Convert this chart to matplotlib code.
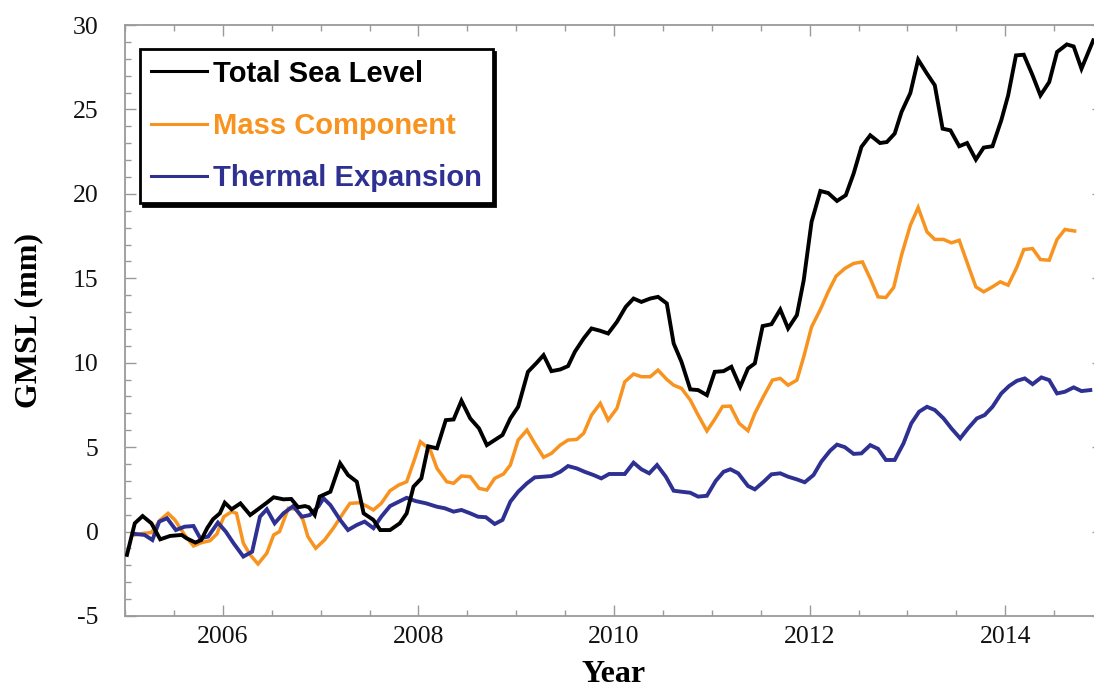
import matplotlib
matplotlib.use("Agg")
import matplotlib.pyplot as plt
from matplotlib.ticker import MultipleLocator

plt.rcParams["axes.unicode_minus"] = False

# Global mean sea level budget, monthly values (mm)
total_year = [2005.02, 2005.10, 2005.18, 2005.27, 2005.36, 2005.46, 2005.58, 2005.63, 2005.72, 2005.78,
              2005.84, 2005.90, 2005.97, 2006.02, 2006.09, 2006.18, 2006.28, 2006.36, 2006.45, 2006.52,
              2006.62, 2006.70, 2006.77, 2006.84, 2006.88, 2006.94, 2006.99, 2007.10, 2007.20, 2007.28,
              2007.37, 2007.44, 2007.54, 2007.61, 2007.71, 2007.81, 2007.88, 2007.95, 2008.03, 2008.10,
              2008.19, 2008.28, 2008.36, 2008.44, 2008.53, 2008.62, 2008.70, 2008.78, 2008.86, 2008.94,
              2009.02, 2009.12, 2009.21, 2009.28, 2009.36, 2009.45, 2009.53, 2009.60, 2009.69, 2009.77,
              2009.86, 2009.94, 2010.03, 2010.12, 2010.20, 2010.28, 2010.37, 2010.45, 2010.54, 2010.61,
              2010.69, 2010.78, 2010.86, 2010.95, 2011.03, 2011.12, 2011.20, 2011.29, 2011.37, 2011.44,
              2011.52, 2011.61, 2011.70, 2011.78, 2011.87, 2011.94, 2012.02, 2012.11, 2012.19, 2012.28,
              2012.37, 2012.45, 2012.53, 2012.62, 2012.72, 2012.79, 2012.87, 2012.94, 2013.03, 2013.11,
              2013.20, 2013.28, 2013.36, 2013.44, 2013.53, 2013.61, 2013.70, 2013.78, 2013.87, 2013.96,
              2014.03, 2014.11, 2014.19, 2014.28, 2014.36, 2014.45, 2014.53, 2014.63, 2014.70, 2014.78,
              2014.90]
total_gmsl = [-1.38, 0.49, 0.92, 0.49, -0.46, -0.26, -0.20, -0.40, -0.65, -0.50,
              0.20, 0.73, 1.08, 1.71, 1.32, 1.67, 0.98, 1.32, 1.71, 2.03,
              1.91, 1.93, 1.44, 1.51, 1.44, 0.98, 2.07, 2.36, 4.04, 3.35,
              2.95, 1.08, 0.69, 0.09, 0.09, 0.49, 1.08, 2.66, 3.15, 5.05,
              4.93, 6.60, 6.64, 7.75, 6.70, 6.11, 5.12, 5.42, 5.72, 6.70,
              7.39, 9.46, 10.00, 10.45, 9.50, 9.60, 9.80, 10.65, 11.44, 12.03,
              11.89, 11.73, 12.42, 13.31, 13.80, 13.60, 13.80, 13.90, 13.51, 11.14,
              10.05, 8.42, 8.38, 8.08, 9.46, 9.50, 9.76, 8.57, 9.66, 9.96,
              12.17, 12.28, 13.15, 12.03, 12.82, 14.89, 18.34, 20.17, 20.05, 19.58,
              19.92, 21.20, 22.78, 23.47, 23.01, 23.07, 23.57, 24.85, 25.97, 27.95,
              27.12, 26.43, 23.86, 23.76, 22.82, 23.01, 22.03, 22.74, 22.82, 24.36,
              25.83, 28.20, 28.24, 27.02, 25.83, 26.62, 28.40, 28.85, 28.73, 27.41,
              29.09]

mass_year = [2005.10, 2005.19, 2005.27, 2005.36, 2005.44, 2005.51, 2005.61, 2005.70, 2005.78, 2005.87,
             2005.94, 2006.01, 2006.09, 2006.14, 2006.21, 2006.28, 2006.36, 2006.45, 2006.52, 2006.58,
             2006.67, 2006.75, 2006.82, 2006.87, 2006.95, 2007.04, 2007.13, 2007.23, 2007.30, 2007.40,
             2007.47, 2007.54, 2007.62, 2007.71, 2007.80, 2007.88, 2007.95, 2008.02, 2008.12, 2008.19,
             2008.29, 2008.36, 2008.44, 2008.53, 2008.62, 2008.70, 2008.78, 2008.87, 2008.94, 2009.02,
             2009.11, 2009.19, 2009.28, 2009.36, 2009.45, 2009.53, 2009.62, 2009.69, 2009.77, 2009.86,
             2009.94, 2010.03, 2010.11, 2010.20, 2010.28, 2010.37, 2010.45, 2010.54, 2010.61, 2010.69,
             2010.78, 2010.86, 2010.95, 2011.03, 2011.11, 2011.19, 2011.28, 2011.37, 2011.44, 2011.53,
             2011.62, 2011.70, 2011.78, 2011.87, 2011.94, 2012.02, 2012.11, 2012.19, 2012.27, 2012.36,
             2012.45, 2012.54, 2012.62, 2012.70, 2012.78, 2012.86, 2012.94, 2013.03, 2013.11, 2013.20,
             2013.28, 2013.37, 2013.45, 2013.53, 2013.62, 2013.70, 2013.78, 2013.86, 2013.95, 2014.03,
             2014.12, 2014.19, 2014.28, 2014.36, 2014.45, 2014.53, 2014.61, 2014.71]
mass_gmsl = [-0.20, -0.10, -0.06, 0.69, 1.08, 0.69, -0.20, -0.85, -0.66, -0.54,
             -0.14, 0.88, 1.18, 1.08, -0.69, -1.38, -1.92, -1.28, -0.20, 0.00,
             1.38, 1.32, 0.69, -0.30, -0.99, -0.50, 0.20, 1.08, 1.67, 1.71,
             1.51, 1.28, 1.67, 2.42, 2.76, 2.95, 4.10, 5.32, 4.85, 3.74,
             2.95, 2.86, 3.29, 3.25, 2.56, 2.46, 3.15, 3.41, 3.94, 5.42,
             6.01, 5.22, 4.40, 4.63, 5.12, 5.42, 5.46, 5.82, 6.90, 7.59,
             6.60, 7.30, 8.87, 9.33, 9.17, 9.17, 9.56, 9.01, 8.67, 8.48,
             7.79, 6.90, 5.96, 6.65, 7.41, 7.43, 6.41, 5.97, 7.00, 8.02,
             8.97, 9.07, 8.67, 8.97, 10.35, 12.12, 13.15, 14.20, 15.12, 15.58,
             15.88, 15.97, 14.99, 13.90, 13.86, 14.46, 16.37, 18.14, 19.19, 17.75,
             17.30, 17.30, 17.10, 17.25, 15.78, 14.49, 14.20, 14.46, 14.79, 14.59,
             15.67, 16.70, 16.76, 16.11, 16.07, 17.30, 17.89, 17.80]

thermal_year = [2005.10, 2005.20, 2005.28, 2005.35, 2005.43, 2005.52, 2005.61, 2005.70, 2005.77, 2005.85,
                2005.95, 2006.03, 2006.11, 2006.21, 2006.30, 2006.38, 2006.45, 2006.53, 2006.62, 2006.72,
                2006.81, 2006.89, 2006.98, 2007.03, 2007.10, 2007.20, 2007.28, 2007.37, 2007.45, 2007.54,
                2007.62, 2007.71, 2007.80, 2007.88, 2007.97, 2008.08, 2008.19, 2008.27, 2008.36, 2008.44,
                2008.53, 2008.61, 2008.69, 2008.78, 2008.86, 2008.94, 2009.02, 2009.11, 2009.19, 2009.28,
                2009.36, 2009.45, 2009.53, 2009.62, 2009.70, 2009.79, 2009.87, 2009.95, 2010.03, 2010.11,
                2010.20, 2010.28, 2010.36, 2010.44, 2010.53, 2010.61, 2010.69, 2010.78, 2010.86, 2010.95,
                2011.04, 2011.12, 2011.19, 2011.27, 2011.37, 2011.44, 2011.53, 2011.61, 2011.70, 2011.78,
                2011.87, 2011.95, 2012.04, 2012.12, 2012.21, 2012.28, 2012.36, 2012.45, 2012.53, 2012.62,
                2012.70, 2012.78, 2012.87, 2012.96, 2013.04, 2013.12, 2013.20, 2013.28, 2013.37, 2013.45,
                2013.54, 2013.62, 2013.71, 2013.79, 2013.87, 2013.96, 2014.04, 2014.12, 2014.20, 2014.28,
                2014.37, 2014.45, 2014.53, 2014.61, 2014.70, 2014.78, 2014.87]
thermal_gmsl = [-0.14, -0.20, -0.50, 0.59, 0.79, 0.09, 0.29, 0.33, -0.40, -0.30,
                0.53, 0.00, -0.69, -1.48, -1.19, 0.88, 1.32, 0.49, 1.08, 1.51,
                0.88, 0.98, 1.51, 1.97, 1.57, 0.69, 0.09, 0.39, 0.59, 0.20,
                0.88, 1.51, 1.77, 2.00, 1.81, 1.67, 1.47, 1.38, 1.18, 1.28,
                1.08, 0.88, 0.85, 0.45, 0.69, 1.77, 2.36, 2.86, 3.21, 3.25,
                3.29, 3.54, 3.88, 3.74, 3.54, 3.35, 3.15, 3.41, 3.41, 3.41,
                4.08, 3.69, 3.45, 3.94, 3.25, 2.42, 2.36, 2.30, 2.07, 2.12,
                3.00, 3.54, 3.69, 3.45, 2.70, 2.50, 2.95, 3.39, 3.45, 3.25,
                3.09, 2.92, 3.35, 4.14, 4.79, 5.15, 5.00, 4.60, 4.63, 5.12,
                4.90, 4.24, 4.24, 5.22, 6.41, 7.10, 7.39, 7.20, 6.70, 6.11,
                5.52, 6.11, 6.70, 6.90, 7.39, 8.18, 8.62, 8.93, 9.07, 8.73,
                9.13, 8.97, 8.18, 8.28, 8.54, 8.32, 8.38]

series_labels = ["Total Sea Level", "Mass Component", "Thermal Expansion"]
series_colors = ["#000000", "#F7931E", "#2E3192"]

x_ticks = [2006, 2008, 2010, 2012, 2014]
y_ticks = [-5, 0, 5, 10, 15, 20, 25, 30]

W, H = 1094, 688
fig = plt.figure(figsize=(W / 100, H / 100), dpi=100)
fig.patch.set_facecolor("white")
ax = fig.add_axes([125 / W, (H - 616) / H, 978 / W, 591 / H])

ax.plot(total_year, total_gmsl, color=series_colors[0], lw=2.8,
        label=series_labels[0], solid_joinstyle="miter", zorder=3)
ax.plot(mass_year, mass_gmsl, color=series_colors[1], lw=2.5,
        label=series_labels[1], solid_joinstyle="miter", zorder=2)
ax.plot(thermal_year, thermal_gmsl, color=series_colors[2], lw=2.8,
        label=series_labels[2], solid_joinstyle="miter", zorder=2.5)

ax.set_xlim(2005, 2015)
ax.set_ylim(-5, 30)
ax.set_xticks(x_ticks)
ax.set_yticks(y_ticks)
ax.xaxis.set_minor_locator(MultipleLocator(0.5))
ax.yaxis.set_minor_locator(MultipleLocator(1))

frame_color = "#9a9a9a"
for sp in ax.spines.values():
    sp.set_color(frame_color)
    sp.set_linewidth(1.3)

serif = ["Liberation Serif", "DejaVu Serif"]
ax.tick_params(which="both", direction="in", top=True, right=True, color=frame_color, width=1.0)
ax.tick_params(which="major", length=8)
ax.tick_params(which="minor", length=4.5)
ax.tick_params(axis="x", which="major", pad=7, labelsize=18.5, labelcolor="#111111")
ax.tick_params(axis="y", which="major", pad=19, labelsize=18.5, labelcolor="#111111")
for lab in ax.get_xticklabels() + ax.get_yticklabels():
    lab.set_family(serif)

ax.set_xlabel("Year", family=serif, fontweight="bold", fontsize=23, labelpad=9)
ax.set_ylabel("GMSL (mm)", family=serif, fontweight="bold", fontsize=23, labelpad=21)

leg = ax.legend(loc="upper left", bbox_to_anchor=(15 / 978, 1 - 24 / 591), borderaxespad=0,
                frameon=True, fancybox=False, framealpha=1, edgecolor="black",
                prop={"family": ["Liberation Sans", "DejaVu Sans"], "weight": "bold", "size": 21},
                labelcolor="linecolor", handlelength=1.95, handletextpad=0.2,
                labelspacing=0.84, borderpad=0.36,
                shadow={"color": "black", "alpha": 1.0})
leg.get_frame().set_linewidth(2.0)
for h in leg.legend_handles:
    h.set_linewidth(2.2)

fig.savefig("out.png", dpi=100, facecolor="white")
